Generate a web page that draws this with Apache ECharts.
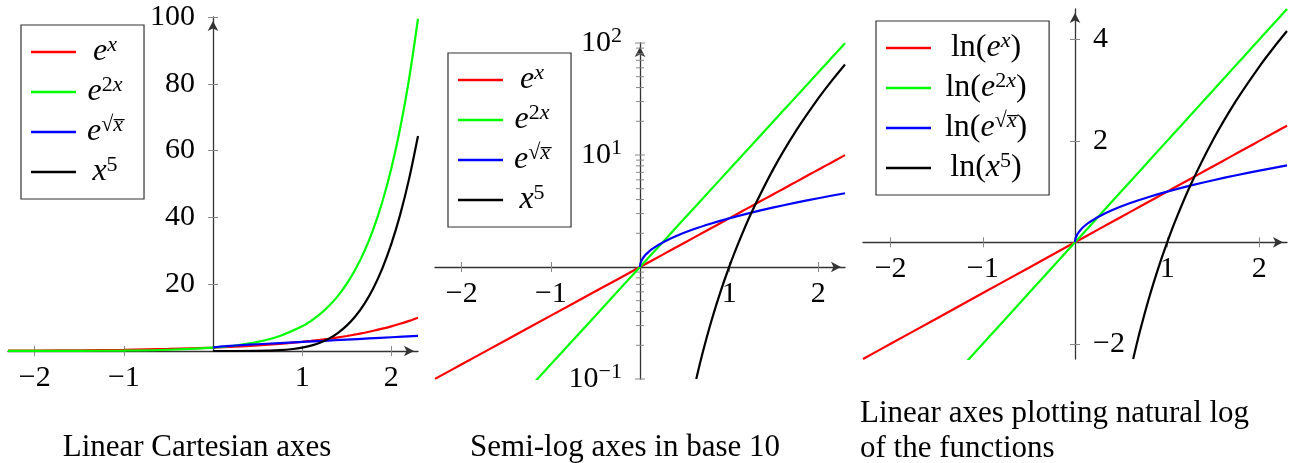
<!DOCTYPE html>
<html><head><meta charset="utf-8">
<script src="https://cdn.jsdelivr.net/npm/echarts@6/dist/echarts.min.js"></script>
<style>html,body{margin:0;padding:0;background:#fff}#c{width:1292px;height:463px}</style>
</head><body><div id="c"></div>
<script>
// ---------- data ----------
const xExp    = [-2.3,-2,-1.5,-1,-0.5,0,0.25,0.5,0.75,1,1.1,1.2,1.3,1.4,1.5,1.6,1.7,1.8,1.9,2,2.1,2.2,2.3];
const expX    = [0.1003,0.1353,0.2231,0.3679,0.6065,1,1.2840,1.6487,2.1170,2.7183,3.0042,3.3201,3.6693,4.0552,4.4817,4.9530,5.4739,6.0496,6.6859,7.3891,8.1662,9.0250,9.9742];
const exp2X   = [0.01005,0.01832,0.04979,0.1353,0.3679,1,1.6487,2.7183,4.4817,7.3891,9.0250,11.0232,13.4637,16.4446,20.0855,24.5325,29.9641,36.5982,44.7012,54.5982,66.6863,81.4509,99.4843];
const lnExpX  = [-2.3,-2,-1.5,-1,-0.5,0,0.25,0.5,0.75,1,1.1,1.2,1.3,1.4,1.5,1.6,1.7,1.8,1.9,2,2.1,2.2,2.3];
const lnExp2X = [-4.6,-4,-3,-2,-1,0,0.5,1,1.5,2,2.2,2.4,2.6,2.8,3,3.2,3.4,3.6,3.8,4,4.2,4.4,4.6];

const xSqrt    = [0,0.002,0.01,0.03,0.06,0.1,0.15,0.25,0.4,0.6,0.8,1,1.25,1.5,1.75,2,2.3];
const expSqrtX = [1,1.0457,1.1052,1.1891,1.2775,1.3719,1.4730,1.6487,1.8823,2.1697,2.4459,2.7183,3.0587,3.4032,3.7543,4.1132,4.5567];
const sqrtX    = [0,0.0447,0.1,0.1732,0.2449,0.3162,0.3873,0.5,0.6325,0.7746,0.8944,1,1.1180,1.2247,1.3229,1.4142,1.5166];

const xPowA = [0,0.25,0.5,0.75,0.9,1,1.1,1.2,1.3,1.4,1.5,1.6,1.7,1.8,1.9,2,2.1,2.2,2.3];
const powA  = [0,0.00098,0.03125,0.2373,0.5905,1,1.6105,2.4883,3.7129,5.3782,7.5938,10.4858,14.1986,18.8957,24.761,32,40.841,51.536,64.363];
const xPowB = [0.631,0.7,0.8,0.9,1,1.1,1.25,1.5,1.75,2,2.15,2.3];
const powB  = [0.1,0.1681,0.3277,0.5905,1,1.6105,3.0518,7.5938,16.413,32,45.940,64.363];
const lnPowB = [-2.302,-1.783,-1.116,-0.527,0,0.477,1.116,2.027,2.798,3.466,3.827,4.165];

const xTickVals   = [-2,-1,1,2];
const yTickVals1  = [20,40,60,80,100];
const yTickVals3  = [-2,2,4];
const logMajor    = [0.1,10,100];
const logMinor    = [0.2,0.3,0.4,0.5,0.6,0.7,0.8,0.9,2,3,4,5,6,7,8,9,20,30,40,50,60,70,80,90];

const names1 = ['e^x','e^2x','e^sqrtx','x^5'];
const names3 = ['ln(e^x)','ln(e^2x)','ln(e^sqrtx)','ln(x^5)'];
const captions = ['Linear Cartesian axes','Semi-log axes in base 10','Linear axes plotting natural log\nof the functions'];

// ---------- styling ----------
const FONT = 'Liberation Serif';
const AX = '#333', TICK = '#888';
const COLORS = ['#ff0000','#00ff00','#0000ff','#000000'];
const FS = 30;
const zip = (xs, ys) => xs.map((x, i) => [x, ys[i]]);
const fmtNum = v => v < 0 ? '\u2212' + (-v) : String(v);

const legendRichText = {
  'e^x': '{i|e}{si|x}',
  'e^2x': '{i|e}{s|2}{si|x}',
  'e^sqrtx': '{i|e}{s|\u221A}{si|x\u0305}',
  'x^5': '{i|x}{s|5}',
  'ln(e^x)': '{r|ln(}{i|e}{si|x}{r|)}',
  'ln(e^2x)': '{r|ln(}{i|e}{s|2}{si|x}{r|)}',
  'ln(e^sqrtx)': '{r|ln(}{i|e}{s|\u221A}{si|x\u0305}{r|)}',
  'ln(x^5)': '{r|ln(}{i|x}{s|5}{r|)}'
};
const richStyles = {
  i: {fontFamily: FONT, fontStyle: 'italic', fontSize: 32, lineHeight: 36, color: '#000', align: 'center'},
  r: {fontFamily: FONT, fontSize: 32, lineHeight: 36, color: '#000', align: 'center'},
  s: {fontFamily: FONT, fontSize: 22, lineHeight: 22, verticalAlign: 'top', color: '#000', align: 'center'},
  si: {fontFamily: FONT, fontStyle: 'italic', fontSize: 22, lineHeight: 22, verticalAlign: 'top', color: '#000', align: 'center'}
};

function legend(left, top, textW, padR, data) {
  return {
    orient: 'vertical', left, top, data,
    icon: 'rect', itemWidth: 45, itemHeight: 2.4, itemGap: 6,
    padding: [9, padR, 11, 10],
    borderColor: '#333', borderWidth: 1.2,
    backgroundColor: '#fff',
    formatter: n => legendRichText[n],
    textStyle: {width: textW, rich: richStyles}
  };
}

const grids = [
  {left: 8, top: 17, width: 410, height: 334, outerBoundsMode: 'none', containLabel: false},
  {left: 435, top: 43, width: 410, height: 336, outerBoundsMode: 'none', containLabel: false},
  {left: 863, top: 9, width: 424, height: 350, outerBoundsMode: 'none', containLabel: false}
];
// pixel distance from grid edge to the zero line of the other axis (axes "in the middle")
const xRange = [-2.3, 2.3];
const yOff = g => -grids[g].width * (0 - xRange[0]) / (xRange[1] - xRange[0]);

function xPair(g, offset) {
  const base = {gridIndex: g, type: 'value', min: xRange[0], max: xRange[1], position: 'bottom', offset, splitLine: {show: false}};
  return [
    Object.assign({}, base, {
      axisLine: {show: true, onZero: false, symbol: ['none', 'arrow'], symbolSize: [8, 10], symbolOffset: [0, -4], lineStyle: {color: AX, width: 1.3}},
      axisTick: {show: true, customValues: xTickVals, length: 5, lineStyle: {color: TICK, width: 1}},
      axisLabel: {show: true, customValues: xTickVals, formatter: fmtNum, margin: 12, fontFamily: FONT, fontSize: FS, color: '#000'}
    }),
    Object.assign({}, base, {
      axisLine: {show: false, onZero: false},
      axisTick: {show: true, inside: true, customValues: xTickVals, length: 5, lineStyle: {color: TICK, width: 1}},
      axisLabel: {show: false}
    })
  ];
}
function yPair(g, min, max, ticks, labelInside) {
  const base = {gridIndex: g, type: 'value', min, max, position: 'left', offset: yOff(g), splitLine: {show: false}};
  return [
    Object.assign({}, base, {
      axisLine: {show: true, onZero: false, symbol: ['none', 'arrow'], symbolSize: [8, 10], symbolOffset: [0, -4], lineStyle: {color: AX, width: 1.3}},
      axisTick: {show: true, customValues: ticks, length: 5, lineStyle: {color: TICK, width: 1}},
      axisLabel: {show: true, inside: labelInside, customValues: ticks, formatter: fmtNum, margin: 18, fontFamily: FONT, fontSize: FS, color: '#000'}
    }),
    Object.assign({}, base, {
      axisLine: {show: false, onZero: false},
      axisTick: {show: true, inside: true, customValues: ticks, length: 5, lineStyle: {color: TICK, width: 1}},
      axisLabel: {show: false}
    })
  ];
}

const xAxes = [].concat(
  xPair(0, 0),
  xPair(1, -grids[1].height * (Math.log10(1) - Math.log10(0.1)) / (Math.log10(100) - Math.log10(0.1))),
  xPair(2, -grids[2].height * (0 - (-2.3)) / (4.6 - (-2.3)))
);
const yAxes = [].concat(
  yPair(0, 0, 100, yTickVals1, false),
  [{
    gridIndex: 1, type: 'log', logBase: 10, min: 0.1, max: 100, position: 'left', offset: yOff(1), splitLine: {show: false},
    axisLine: {show: true, onZero: false, symbol: ['none', 'arrow'], symbolSize: [8, 10], symbolOffset: [0, -4], lineStyle: {color: AX, width: 1.3}},
    axisTick: {show: false},
    axisLabel: {
      margin: 18, fontFamily: FONT, fontSize: FS, color: '#000',
      formatter: v => {
        const e = Math.round(Math.log10(v));
        if (e === 0) return '';
        return '{b|10}{s|' + (e < 0 ? '\u2212' + (-e) : e) + '}';
      },
      rich: {
        b: {fontFamily: FONT, fontSize: FS, lineHeight: 36, color: '#000'},
        s: {fontFamily: FONT, fontSize: 22, lineHeight: 22, verticalAlign: 'top', color: '#000'}
      }
    }
  }],
  yPair(2, -2.3, 4.6, yTickVals3, true)
);

function lineSeries(name, color, xi, yi, data) {
  return {name, type: 'line', xAxisIndex: xi, yAxisIndex: yi, data, smooth: 0.3, symbol: 'none', showSymbol: false,
          lineStyle: {color, width: 2.2}, itemStyle: {color}, clip: true, z: 3};
}

const series = [
  lineSeries(names1[0], COLORS[0], 0, 0, zip(xExp, expX)),
  lineSeries(names1[1], COLORS[1], 0, 0, zip(xExp, exp2X)),
  lineSeries(names1[2], COLORS[2], 0, 0, zip(xSqrt, expSqrtX)),
  lineSeries(names1[3], COLORS[3], 0, 0, zip(xPowA, powA)),

  lineSeries(names1[0], COLORS[0], 2, 2, zip(xExp, expX)),
  lineSeries(names1[1], COLORS[1], 2, 2, zip(xExp, exp2X)),
  lineSeries(names1[2], COLORS[2], 2, 2, zip(xSqrt, expSqrtX)),
  lineSeries(names1[3], COLORS[3], 2, 2, zip(xPowB, powB)),
  {
    type: 'custom', xAxisIndex: 2, yAxisIndex: 2, silent: true, z: 1,
    data: logMajor.map(v => [0, v, 1]).concat(logMinor.map(v => [0, v, 0])),
    renderItem: (params, api) => {
      const p = api.coord([api.value(0), api.value(1)]);
      const h = api.value(2) ? 5 : 4;
      return {type: 'line', shape: {x1: p[0] - h, y1: p[1], x2: p[0] + h, y2: p[1]}, style: {stroke: TICK, lineWidth: 1}};
    }
  },

  lineSeries(names3[0], COLORS[0], 4, 3, zip(xExp, lnExpX)),
  lineSeries(names3[1], COLORS[1], 4, 3, zip(xExp, lnExp2X)),
  lineSeries(names3[2], COLORS[2], 4, 3, zip(xSqrt, sqrtX)),
  lineSeries(names3[3], COLORS[3], 4, 3, zip(xPowB, lnPowB))
];

const capStyle = {fontFamily: FONT, fontSize: 31, fill: '#000'};
const option = {
  animation: false,
  backgroundColor: '#fff',
  grid: grids,
  xAxis: xAxes,
  yAxis: yAxes,
  legend: [legend(21, 25, 48, 21, names1), legend(448, 53, 48, 21, names1), legend(876, 21, 100, 22, names3)],
  graphic: [
    {type: 'text', x: 197, y: 448, style: Object.assign({text: captions[0], align: 'center', verticalAlign: 'middle'}, capStyle)},
    {type: 'text', x: 625, y: 448, style: Object.assign({text: captions[1], align: 'center', verticalAlign: 'middle'}, capStyle)},
    {type: 'text', x: 860, y: 396, style: Object.assign({text: captions[2], align: 'left', verticalAlign: 'top', lineHeight: 35}, capStyle)}
  ],
  series
};
const chart = echarts.init(document.getElementById('c'));
chart.setOption(option);
</script>
</body></html>
